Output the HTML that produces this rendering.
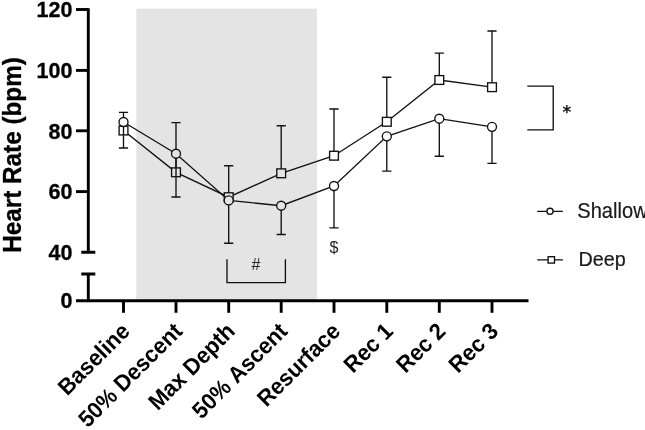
<!DOCTYPE html>
<html><head><meta charset="utf-8"><title>Heart Rate</title>
<style>html,body{margin:0;padding:0;background:#fff}svg{display:block}text{font-family:"Liberation Sans",sans-serif;font-kerning:none}</style></head><body>
<svg width="645" height="430" viewBox="0 0 645 430">
<rect width="645" height="430" fill="#fff"/>
<rect x="136.3" y="8.6" width="180.6" height="291.4" fill="#e4e4e4"/>
<g fill="none" stroke="#111" stroke-width="1.35">
<polyline points="123.5,130.5 176,172.3 228.7,197.2 281.2,173.3 334,155.7 386.8,121.8 439.3,80 492,87.2"/>
<path d="M123.5 130.5V112.3M118.9 112.3H128.1"/>
<path d="M176 172.3V122.6M171.4 122.6H180.6"/>
<path d="M228.7 197.2V165.7M224.1 165.7H233.3"/>
<path d="M281.2 173.3V125.7M276.6 125.7H285.8"/>
<path d="M334 155.7V109M329.4 109H338.6"/>
<path d="M386.8 121.8V77.2M382.2 77.2H391.4"/>
<path d="M439.3 80V53.1M434.7 53.1H443.9"/>
<path d="M492 87.2V31M487.4 31H496.6"/>
</g>
<rect x="119.1" y="126.1" width="8.8" height="8.8" fill="#fff" stroke="#111" stroke-width="1.35"/>
<rect x="171.6" y="167.9" width="8.8" height="8.8" fill="#e4e4e4" stroke="#111" stroke-width="1.35"/>
<rect x="224.3" y="192.8" width="8.8" height="8.8" fill="#e4e4e4" stroke="#111" stroke-width="1.35"/>
<rect x="276.8" y="168.9" width="8.8" height="8.8" fill="#e4e4e4" stroke="#111" stroke-width="1.35"/>
<rect x="329.6" y="151.3" width="8.8" height="8.8" fill="#fff" stroke="#111" stroke-width="1.35"/>
<rect x="382.4" y="117.4" width="8.8" height="8.8" fill="#fff" stroke="#111" stroke-width="1.35"/>
<rect x="434.9" y="75.6" width="8.8" height="8.8" fill="#fff" stroke="#111" stroke-width="1.35"/>
<rect x="487.6" y="82.8" width="8.8" height="8.8" fill="#fff" stroke="#111" stroke-width="1.35"/>
<g fill="none" stroke="#111" stroke-width="1.35">
<polyline points="123.5,122 176,153.7 228.7,200.4 281.2,205.7 334,186 386.8,136.3 439.3,118.7 492,126.8"/>
<path d="M123.5 122V148M118.9 148H128.1"/>
<path d="M176 153.7V197M171.4 197H180.6"/>
<path d="M228.7 200.4V243.2M224.1 243.2H233.3"/>
<path d="M281.2 205.7V234.5M276.6 234.5H285.8"/>
<path d="M334 186V227.8M329.4 227.8H338.6"/>
<path d="M386.8 136.3V171.1M382.2 171.1H391.4"/>
<path d="M439.3 118.7V156.2M434.7 156.2H443.9"/>
<path d="M492 126.8V163.4M487.4 163.4H496.6"/>
</g>
<circle cx="123.5" cy="122" r="4.5" fill="#fff" stroke="#111" stroke-width="1.35"/>
<circle cx="176" cy="153.7" r="4.5" fill="#e4e4e4" stroke="#111" stroke-width="1.35"/>
<circle cx="228.7" cy="200.4" r="4.5" fill="#e4e4e4" stroke="#111" stroke-width="1.35"/>
<circle cx="281.2" cy="205.7" r="4.5" fill="#e4e4e4" stroke="#111" stroke-width="1.35"/>
<circle cx="334" cy="186" r="4.5" fill="#fff" stroke="#111" stroke-width="1.35"/>
<circle cx="386.8" cy="136.3" r="4.5" fill="#fff" stroke="#111" stroke-width="1.35"/>
<circle cx="439.3" cy="118.7" r="4.5" fill="#fff" stroke="#111" stroke-width="1.35"/>
<circle cx="492" cy="126.8" r="4.5" fill="#fff" stroke="#111" stroke-width="1.35"/>
<path d="M527.3 86.1H553.2V129.9H527.3" fill="none" stroke="#111" stroke-width="1.35"/>
<path d="M227 259.3V282.6H285.4V259.3" fill="none" stroke="#111" stroke-width="1.35"/>
<text x="256" y="269.5" font-size="16" text-anchor="middle" fill="#222">#</text>
<text x="334" y="252.5" font-size="16" text-anchor="middle" fill="#222">$</text>
<text transform="translate(566.8 118.1) scale(1 1.1)" font-size="16.8" font-weight="bold" text-anchor="middle" fill="#111" style="font-family:'DejaVu Sans',sans-serif">*</text>
<g fill="none" stroke="#000" stroke-width="2.9">
<path d="M88.3 8.2V252.2M88.3 274V302"/>
<path d="M76 300.7H528.5"/>
<path d="M76 9.5H88.3"/>
<path d="M76 70.4H88.3"/>
<path d="M76 130.8H88.3"/>
<path d="M76 191.6H88.3"/>
<path d="M81.3 252.2H95.3M81.3 274H95.3"/>
<path d="M123.5 300.7V312.8"/>
<path d="M176 300.7V312.8"/>
<path d="M228.7 300.7V312.8"/>
<path d="M281.2 300.7V312.8"/>
<path d="M334 300.7V312.8"/>
<path d="M386.8 300.7V312.8"/>
<path d="M439.3 300.7V312.8"/>
<path d="M492 300.7V312.8"/>
</g>
<text transform="translate(72.4 17.2) scale(1 1.04)" font-size="21.5" stroke="#000" stroke-width="0.3" font-weight="bold" text-anchor="end" fill="#000">120</text>
<text transform="translate(72.4 78.1) scale(1 1.04)" font-size="21.5" stroke="#000" stroke-width="0.3" font-weight="bold" text-anchor="end" fill="#000">100</text>
<text transform="translate(72.4 138.5) scale(1 1.04)" font-size="21.5" stroke="#000" stroke-width="0.3" font-weight="bold" text-anchor="end" fill="#000">80</text>
<text transform="translate(72.4 199.3) scale(1 1.04)" font-size="21.5" stroke="#000" stroke-width="0.3" font-weight="bold" text-anchor="end" fill="#000">60</text>
<text transform="translate(72.4 259.9) scale(1 1.04)" font-size="21.5" stroke="#000" stroke-width="0.3" font-weight="bold" text-anchor="end" fill="#000">40</text>
<text transform="translate(72.4 308.4) scale(1 1.04)" font-size="21.5" stroke="#000" stroke-width="0.3" font-weight="bold" text-anchor="end" fill="#000">0</text>
<text transform="translate(21.0 155) rotate(-90) scale(1 1.04)" font-size="24.3" stroke="#000" stroke-width="0.3" font-weight="bold" text-anchor="middle" fill="#000">Heart Rate (bpm)</text>
<text transform="translate(131.1 332.6) rotate(-45) scale(1 1.04)" font-size="22.0" font-weight="bold" text-anchor="end" fill="#000">Baseline</text>
<text transform="translate(183.6 332.6) rotate(-45) scale(1 1.04)" font-size="22.0" font-weight="bold" text-anchor="end" fill="#000">50% Descent</text>
<text transform="translate(236.3 332.6) rotate(-45) scale(1 1.04)" font-size="22.0" font-weight="bold" text-anchor="end" fill="#000">Max Depth</text>
<text transform="translate(288.8 332.6) rotate(-45) scale(1 1.04)" font-size="22.0" font-weight="bold" text-anchor="end" fill="#000">50% Ascent</text>
<text transform="translate(341.6 332.6) rotate(-45) scale(1 1.04)" font-size="22.0" font-weight="bold" text-anchor="end" fill="#000">Resurface</text>
<text transform="translate(394.4 332.6) rotate(-45) scale(1 1.04)" font-size="22.0" font-weight="bold" text-anchor="end" fill="#000">Rec 1</text>
<text transform="translate(446.9 332.6) rotate(-45) scale(1 1.04)" font-size="22.0" font-weight="bold" text-anchor="end" fill="#000">Rec 2</text>
<text transform="translate(499.6 332.6) rotate(-45) scale(1 1.04)" font-size="22.0" font-weight="bold" text-anchor="end" fill="#000">Rec 3</text>
<path d="M537.2 211.3H562.9M537.2 259.9H562.9" fill="none" stroke="#111" stroke-width="1.35"/>
<circle cx="550" cy="211.3" r="3.1" fill="#fff" stroke="#111" stroke-width="1.35"/>
<rect x="548.1" y="256.7" width="6.4" height="6.4" fill="#fff" stroke="#111" stroke-width="1.35"/>
<text transform="translate(577.3 217.7) scale(1 1.06)" font-size="20.1" fill="#1a1a1a" stroke="#1a1a1a" stroke-width="0.2">Shallow</text>
<text transform="translate(578.4 265.7) scale(1 1.04)" font-size="19.8" fill="#1a1a1a" stroke="#1a1a1a" stroke-width="0.2">Deep</text>
</svg></body></html>
